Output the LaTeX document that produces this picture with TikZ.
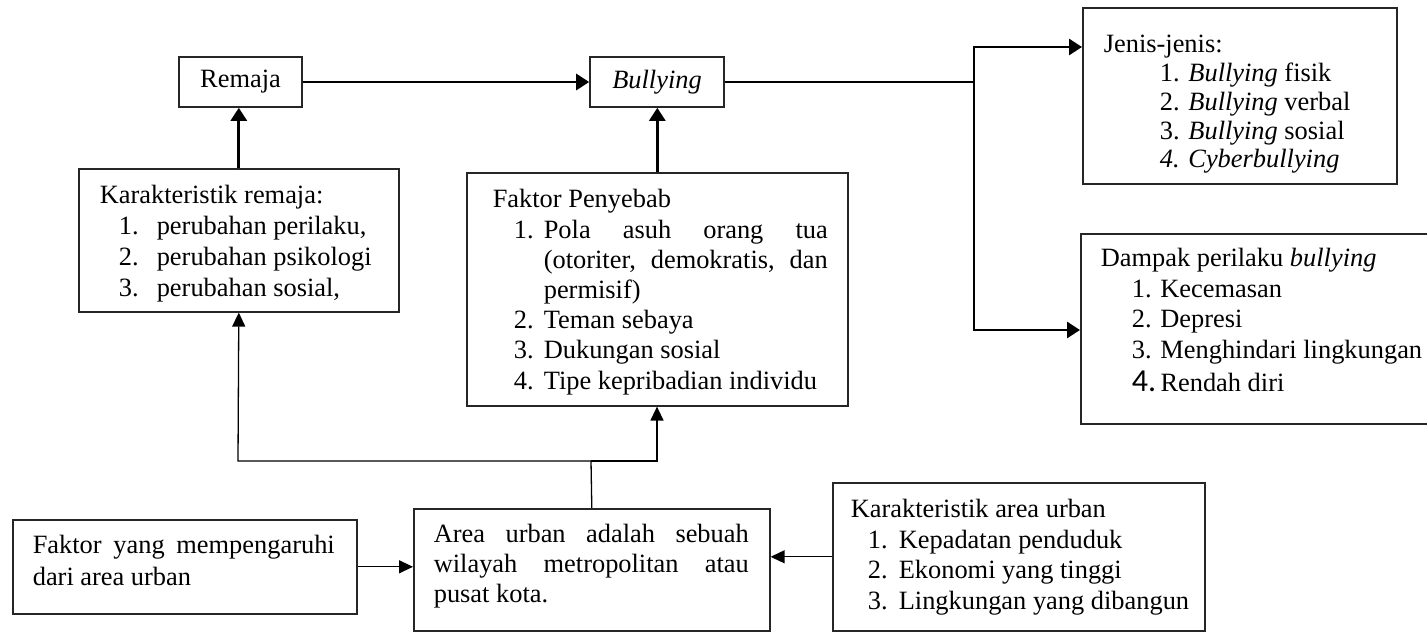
\documentclass[tikz,border=0pt]{standalone}
\usepackage{fontspec}
\setmainfont{Liberation Serif}
\newfontfamily\carlito{Carlito}
\usetikzlibrary{arrows.meta}
\newlength\px \setlength\px{0.5pt}
\begin{document}
\begin{tikzpicture}[x=0.5pt,y=-0.5pt,
  box/.style={draw=black!85, line width=0.8pt, inner sep=0pt, anchor=north west,
    font=\fontsize{13.2pt}{15pt}\selectfont},
  sbox/.style={draw=black!85, line width=0.8pt, inner sep=0pt, minimum height=50\px,
    font=\fontsize{13.2pt}{15pt}\selectfont},
  thickline/.style={line width=1.4pt},
  thickarr/.style={line width=1.4pt, -{Triangle[length=6.5pt,width=8pt]}},
  thinline/.style={line width=0.65pt},
  thinarr/.style={line width=0.65pt, -{Triangle[length=7pt,width=6.5pt]}}]
\path[use as bounding box, fill=white] (0,0) rectangle (1427,631);

% top row
\node[sbox, minimum width=123\px] (remaja) at (240.5,82) {Remaja};
\node[sbox, minimum width=134\px] (bullying) at (657,82) {\textit{Bullying}};

% Karakteristik remaja
\node[box] (kr) at (78,168) {\begin{minipage}[c][143\px][t]{320\px}\fontsize{13.2pt}{15.5pt}\selectfont
\rule{0pt}{35\px}\hspace*{21\px}Karakteristik remaja:\\
\hspace*{40\px}\makebox[38\px][l]{1.}perubahan perilaku,\\
\hspace*{40\px}\makebox[38\px][l]{2.}perubahan psikologi\\
\hspace*{40\px}\makebox[38\px][l]{3.}perubahan sosial,
\end{minipage}};

% Faktor Penyebab
\node[box] (fp) at (466,172) {\begin{minipage}[c][233\px][t]{381\px}\fontsize{13.2pt}{15.1pt}\selectfont
\rule{0pt}{35\px}\hspace*{26\px}Faktor Penyebab\\
\hspace*{47\px}\makebox[30\px][l]{1.}\makebox[284\px][s]{Pola asuh orang tua}\\
\hspace*{77\px}\makebox[284\px][s]{(otoriter, demokratis, dan}\\
\hspace*{77\px}permisif)\\
\hspace*{47\px}\makebox[30\px][l]{2.}Teman sebaya\\
\hspace*{47\px}\makebox[30\px][l]{3.}Dukungan sosial\\
\hspace*{47\px}\makebox[30\px][l]{4.}Tipe kepribadian individu
\end{minipage}};

% Jenis-jenis
\node[box] (jn) at (1082,7) {\begin{minipage}[c][176\px][t]{314\px}\fontsize{13.2pt}{14.4pt}\selectfont
\rule{0pt}{45\px}\hspace*{21\px}Jenis-jenis:\\
\hspace*{77\px}1. \textit{Bullying} fisik\\
\hspace*{77\px}2. \textit{Bullying} verbal\\
\hspace*{77\px}3. \textit{Bullying} sosial\\
\hspace*{77\px}\textit{4. Cyberbullying}
\end{minipage}};

% Dampak
\node[box] (dp) at (1080,233) {\begin{minipage}[c][190\px][t]{380\px}\fontsize{13.2pt}{15.2pt}\selectfont
\rule{0pt}{33\px}\hspace*{20\px}Dampak perilaku \textit{bullying}\\
\hspace*{51\px}1. Kecemasan\\
\hspace*{51\px}2. Depresi\\
\hspace*{51\px}3. Menghindari lingkungan\\[3\px]
\hspace*{51\px}{\carlito\fontsize{16pt}{15pt}\selectfont 4.}\,Rendah diri
\end{minipage}};

% Faktor yang mempengaruhi
\node[box] (fy) at (12,519) {\begin{minipage}[c][94\px][t]{344\px}\fontsize{13.2pt}{16pt}\selectfont
\rule{0pt}{34\px}\hspace*{20\px}\makebox[302\px][s]{Faktor yang mempengaruhi}\\
\hspace*{20\px}dari area urban
\end{minipage}};

% Area urban
\node[box] (au) at (413,508) {\begin{minipage}[c][122\px][t]{356\px}\fontsize{13.2pt}{15pt}\selectfont
\rule{0pt}{34\px}\hspace*{20\px}\makebox[315\px][s]{Area urban adalah sebuah}\\
\hspace*{20\px}\makebox[315\px][s]{wilayah metropolitan atau}\\
\hspace*{20\px}pusat kota.
\end{minipage}};

% Karakteristik area urban
\node[box] (ka) at (832,482) {\begin{minipage}[c][148\px][t]{372\px}\fontsize{13.2pt}{15.2pt}\selectfont
\rule{0pt}{35\px}\hspace*{18\px}Karakteristik area urban\\
\hspace*{35\px}\makebox[31\px][l]{1.}Kepadatan penduduk\\
\hspace*{35\px}\makebox[31\px][l]{2.}Ekonomi yang tinggi\\
\hspace*{35\px}\makebox[31\px][l]{3.}Lingkungan yang dibangun
\end{minipage}};

% connectors top
\draw[thickarr] (remaja.east) -- (bullying.west);
\draw[thickarr] (kr.north) -- (kr.north |- remaja.south);
\draw[thickarr] (fp.north) -- (fp.north |- bullying.south);

\coordinate (jc) at (974,82);
\coordinate (jt) at (974,47);
\coordinate (jb) at (974,330);
\draw[thickline] (bullying.east) -- (jc);
\draw[thickarr] (jc) -- (jt) -- (jt -| jn.west);
\draw[thickarr] (jc) -- (jb) -- (jb -| dp.west);

% connectors bottom
\coordinate (hl) at (238,461);
\coordinate (hm) at (591,461);
\coordinate (hr) at (657,461);
\draw[thinline] (au.north) -- (hm);
\draw[thinarr] (hm) -- (hl) -- (kr.south);
\draw[thinarr] (hm) -- (hr) -- (hr |- fp.south);
\draw[thinarr] (fy.east) -- (fy.east -| au.west);
\draw[thinarr] (ka.west) -- (ka.west -| au.east);
\end{tikzpicture}
\end{document}
